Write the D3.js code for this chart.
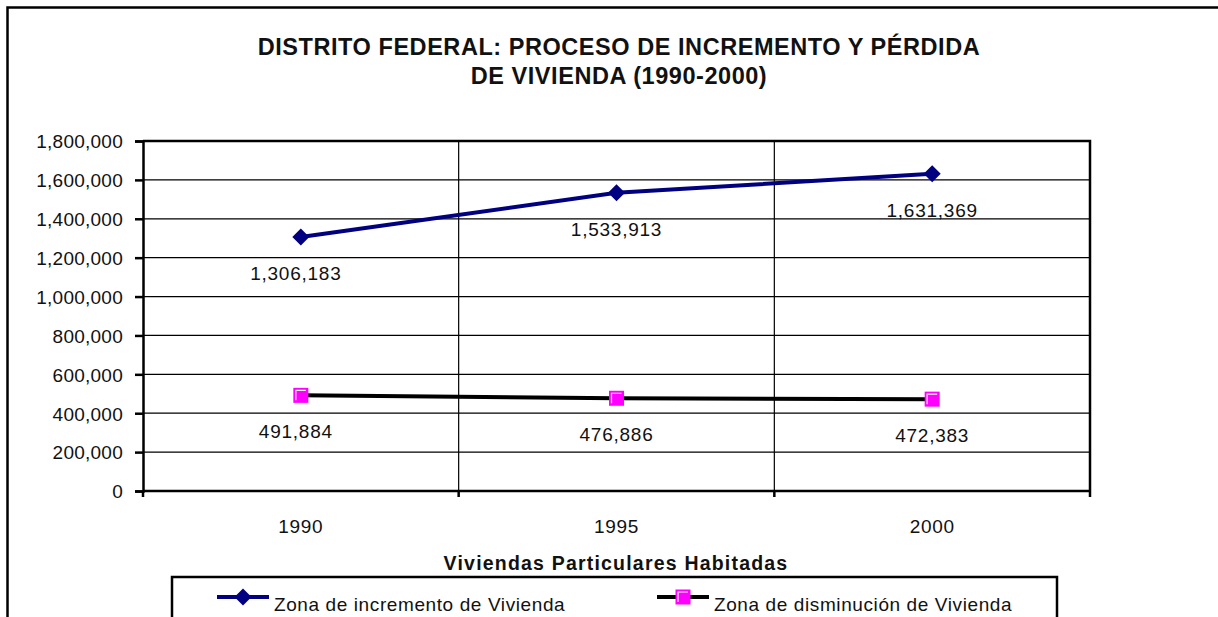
<!DOCTYPE html>
<html>
<head>
<meta charset="utf-8">
<script src="https://cdn.jsdelivr.net/npm/d3@7"></script>
<style>
  body { margin: 0; background: #fff; }
  text { font-family: Arial, "Liberation Sans", sans-serif; fill: #111; }
</style>
</head>
<body>
<svg id="canvas" width="1218" height="617"></svg>
<script>
'use strict';

/* chart data */
const years = ['1990', '1995', '2000'];
const incremento = [1306183, 1533913, 1631369];
const disminucion = [491884, 476886, 472383];
const yTicks = [0, 200000, 400000, 600000, 800000, 1000000, 1200000, 1400000, 1600000, 1800000];
const titleLines = ['DISTRITO FEDERAL: PROCESO DE INCREMENTO Y PÉRDIDA', 'DE VIVIENDA (1990-2000)'];
const xTitle = 'Viviendas Particulares Habitadas';
const seriesNames = ['Zona de incremento de Vivienda', 'Zona de disminución de Vivienda'];

const svg = d3.select('#canvas');
const plot = { left: 143, top: 141, right: 1090, bottom: 491 };

/* outer chart frame (runs off the right and bottom of the picture) */
svg.append('rect')
  .attr('x', 7.5).attr('y', 7.5)
  .attr('width', 1240).attr('height', 640)
  .style('fill', 'none').style('stroke', '#000').style('stroke-width', 2.5);

/* title */
svg.append('g').selectAll('text')
  .data(titleLines)
  .enter().append('text')
  .attr('x', 619)
  .attr('y', function(d, i){ return 55 + i * 28.5; })
  .attr('text-anchor', 'middle')
  .style('font-weight', 'bold')
  .style('font-size', '23.5px')
  .style('letter-spacing', '0.55px')
  .text(function(d){ return d; });

const x = d3.scaleBand().domain(years).range([plot.left, plot.right]);
const y = d3.scaleLinear().domain([0, 1800000]).range([plot.bottom, plot.top]);

/* horizontal gridlines */
svg.append('g').selectAll('line')
  .data(yTicks.slice(1))
  .enter().append('line')
  .attr('x1', plot.left).attr('x2', plot.right)
  .attr('y1', function(d){ return y(d); })
  .attr('y2', function(d){ return y(d); })
  .style('stroke', '#000').style('stroke-width', 1.2);

/* vertical gridlines on category boundaries */
const bounds = years.slice(1).map(function(d){ return x(d); });
svg.append('g').selectAll('line')
  .data(bounds)
  .enter().append('line')
  .attr('x1', function(d){ return d; }).attr('x2', function(d){ return d; })
  .attr('y1', plot.top).attr('y2', plot.bottom)
  .style('stroke', '#000').style('stroke-width', 1.2);

/* plot frame: top and right */
svg.append('path')
  .attr('d', 'M' + plot.left + ',' + plot.top + 'H' + plot.right + 'V' + plot.bottom)
  .style('fill', 'none').style('stroke', '#000').style('stroke-width', 2.5);

/* y axis */
const yAxis = svg.append('g')
  .attr('transform', 'translate(' + plot.left + ',0)')
  .call(d3.axisLeft(y).tickValues(yTicks).tickSize(8).tickPadding(12).tickFormat(d3.format(',')));
yAxis.select('.domain').style('stroke-width', 2.5);
yAxis.selectAll('.tick line').style('stroke-width', 2.5);
yAxis.selectAll('.tick text')
  .style('font-size', '19px')
  .style('letter-spacing', '0.25px')
  .style('font-family', 'Arial, "Liberation Sans", sans-serif')
  .attr('dy', '0.36em');

/* x axis: ticks on category boundaries, labels centred in bands */
const xAxis = svg.append('g')
  .attr('transform', 'translate(0,' + plot.bottom + ')');
xAxis.append('line')
  .attr('x1', plot.left).attr('x2', plot.right)
  .style('stroke', '#000').style('stroke-width', 2.5);
xAxis.selectAll('line.tk')
  .data([plot.left].concat(bounds).concat([plot.right]))
  .enter().append('line')
  .attr('class', 'tk')
  .attr('x1', function(d){ return d; }).attr('x2', function(d){ return d; })
  .attr('y1', 0).attr('y2', 6)
  .style('stroke', '#000').style('stroke-width', 2.5);
xAxis.selectAll('text')
  .data(years)
  .enter().append('text')
  .attr('x', function(d){ return x(d) + x.bandwidth() / 2; })
  .attr('y', 42)
  .attr('text-anchor', 'middle')
  .style('font-size', '19px')
  .style('letter-spacing', '0.7px')
  .text(function(d){ return d; });

/* x axis title */
svg.append('text')
  .attr('x', 616).attr('y', 570)
  .attr('text-anchor', 'middle')
  .style('font-weight', 'bold')
  .style('font-size', '19.5px')
  .style('letter-spacing', '1.2px')
  .text(xTitle);

const cx = function(i){ return x(years[i]) + x.bandwidth() / 2; };
const line = d3.line()
  .x(function(d, i){ return cx(i); })
  .y(function(d){ return y(d); });

/* series lines */
svg.append('path').datum(incremento)
  .attr('d', line)
  .style('fill', 'none').style('stroke', '#000080').style('stroke-width', 4);
svg.append('path').datum(disminucion)
  .attr('d', line)
  .style('fill', 'none').style('stroke', '#000').style('stroke-width', 4);

function diamond(g, px, py){
  g.append('path')
    .attr('d', 'M' + px + ',' + (py - 8.5) + 'L' + (px + 8.5) + ',' + py + 'L' + px + ',' + (py + 8.5) + 'L' + (px - 8.5) + ',' + py + 'Z')
    .style('fill', '#000080');
}
function square(g, px, py){
  g.append('rect')
    .attr('x', px - 7.5).attr('y', py - 7.5)
    .attr('width', 15).attr('height', 15)
    .style('fill', '#ff00ff');
  g.append('path')
    .attr('d', 'M' + (px - 5) + ',' + (py + 5) + 'V' + (py - 5) + 'H' + (px + 5))
    .style('fill', 'none').style('stroke', '#fff').style('stroke-width', 1.2);
}

/* markers and data labels */
const marks = svg.append('g');
incremento.forEach(function(v, i){ diamond(marks, cx(i), y(v)); });
disminucion.forEach(function(v, i){ square(marks, cx(i), y(v)); });

const labels = svg.append('g');
[incremento, disminucion].forEach(function(s){
  labels.selectAll(null)
    .data(s)
    .enter().append('text')
    .attr('x', function(d, i){ return cx(i) - (i === 0 ? 5 : 0); })
    .attr('y', function(d){ return y(d) + 43; })
    .attr('text-anchor', 'middle')
    .style('font-size', '19px')
    .style('letter-spacing', '0.75px')
    .text(function(d){ return d3.format(',')(d); });
});

/* legend */
const leg = svg.append('g');
leg.append('rect')
  .attr('x', 172).attr('y', 577)
  .attr('width', 885).attr('height', 80)
  .style('fill', '#fff').style('stroke', '#000').style('stroke-width', 2.5);
const legItems = [
  { name: seriesNames[0], x0: 217, color: '#000080', mark: diamond },
  { name: seriesNames[1], x0: 657, color: '#000', mark: square }
];
legItems.forEach(function(it){
  leg.append('line')
    .attr('x1', it.x0).attr('x2', it.x0 + 52)
    .attr('y1', 597).attr('y2', 597)
    .style('stroke', it.color).style('stroke-width', 4);
  it.mark(leg, it.x0 + 26, 597);
  leg.append('text')
    .attr('x', it.x0 + 57).attr('y', 611)
    .style('font-size', '19px')
    .style('letter-spacing', '0.6px')
    .text(it.name);
});
</script>
</body>
</html>
